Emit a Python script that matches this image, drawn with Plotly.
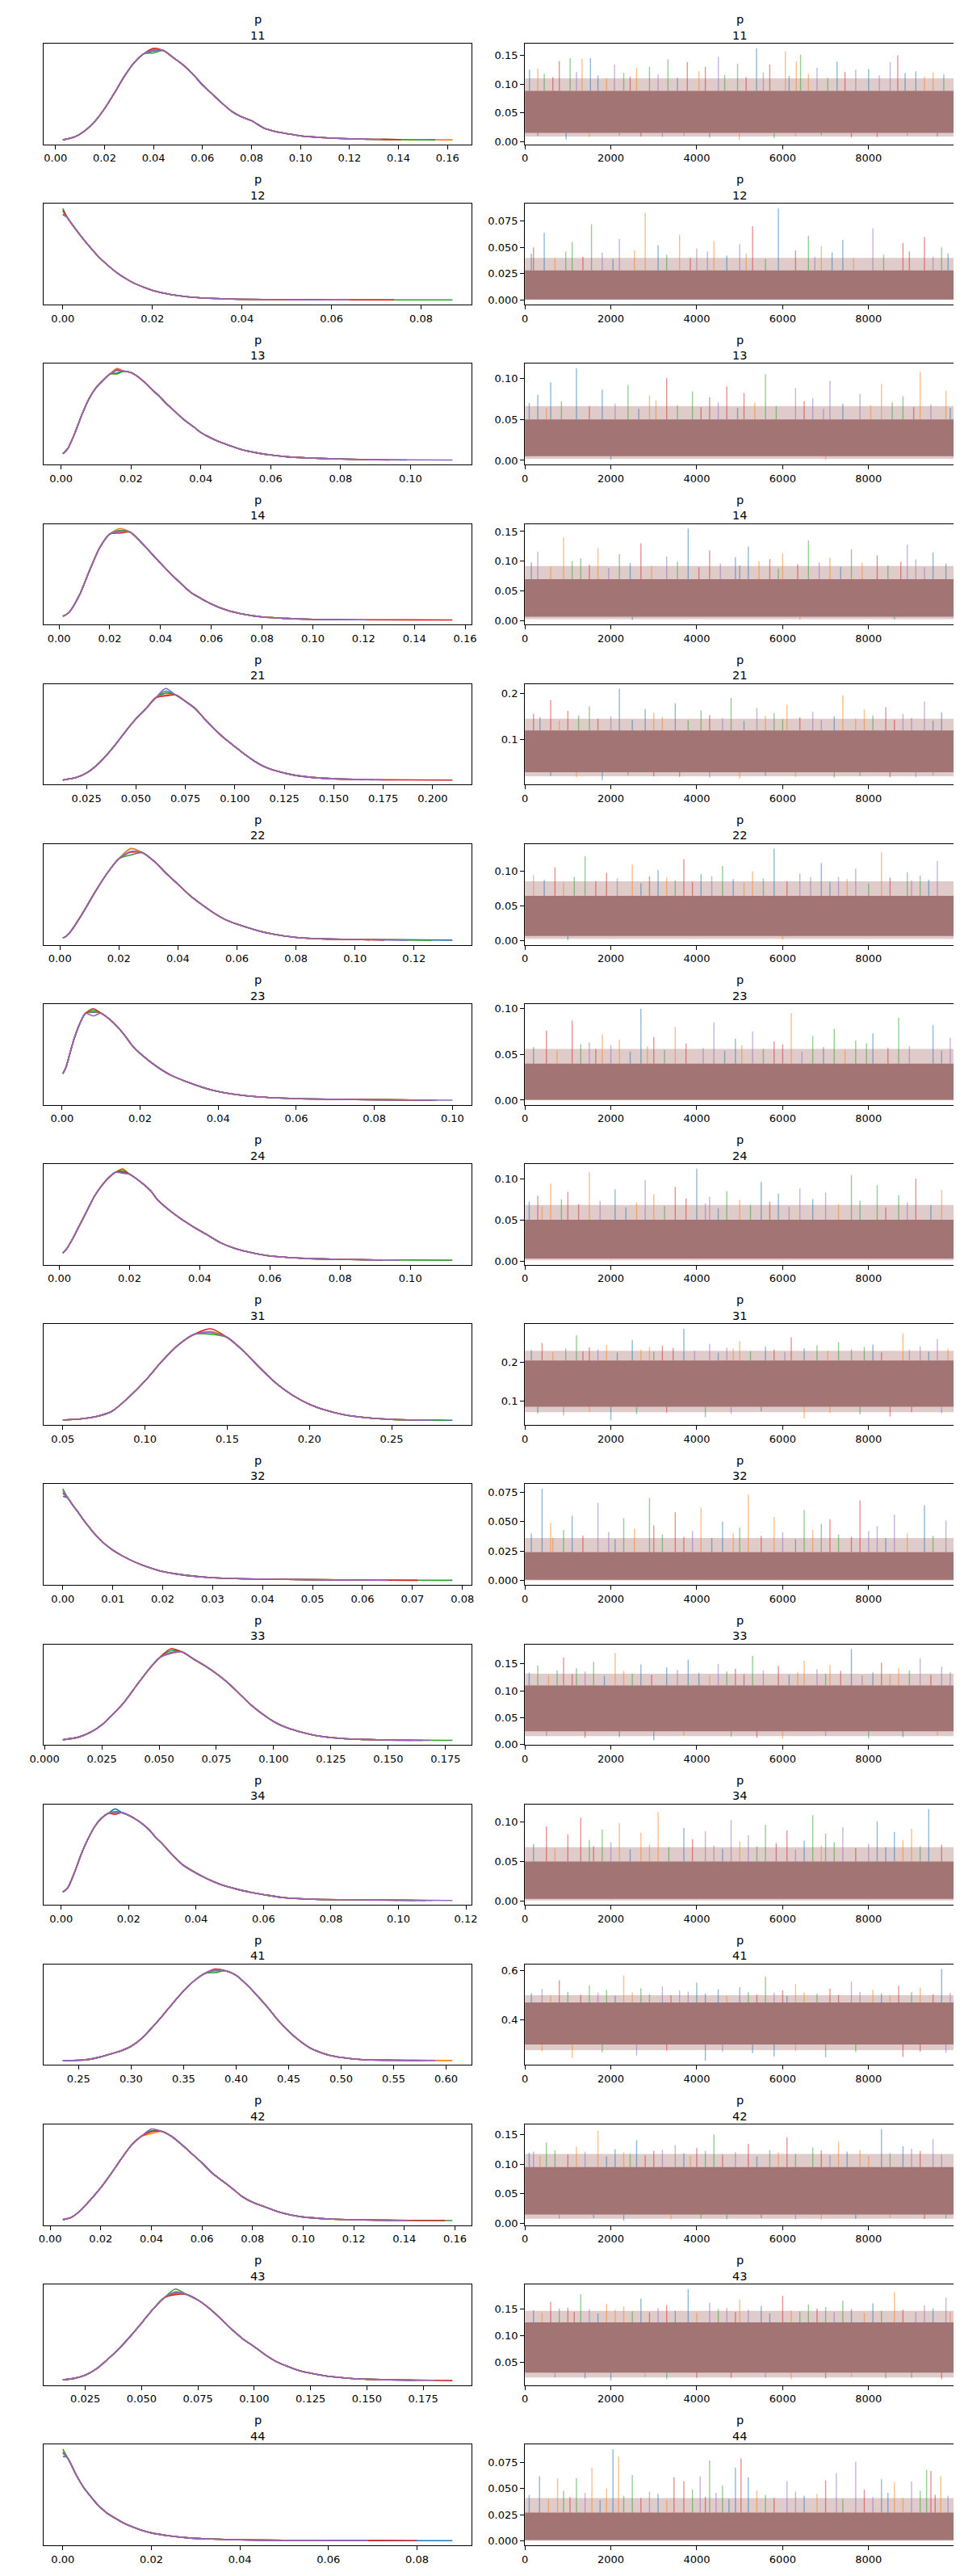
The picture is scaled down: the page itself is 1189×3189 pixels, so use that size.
import plotly.graph_objects as go

# ---------------- data ----------------
names = ["11", "12", "13", "14", "21", "22", "23", "24",
         "31", "32", "33", "34", "41", "42", "43", "44"]
chain_colors = ["#1f77b4", "#ff7f0e", "#2ca02c", "#d62728", "#9467bd"]

# KDE: grid, normalised density (mean curve), per-chain peak heights, per-chain tail ends
kx11 = [0.003, 0.008, 0.012, 0.016, 0.020, 0.024, 0.028, 0.032, 0.036, 0.040, 0.044, 0.048, 0.052, 0.056, 0.060, 0.064, 0.068, 0.072, 0.076, 0.080, 0.085, 0.090, 0.095, 0.100, 0.110, 0.120, 0.130, 0.140, 0.150, 0.162]
ky11 = [0.0, 0.035, 0.10, 0.20, 0.34, 0.51, 0.69, 0.84, 0.94, 0.985, 0.976, 0.90, 0.82, 0.72, 0.60, 0.50, 0.40, 0.31, 0.25, 0.21, 0.13, 0.09, 0.065, 0.044, 0.024, 0.012, 0.006, 0.003, 0.001, 0.0]
pk11 = [0.97, 0.99, 0.95, 1.0, 0.98]
ke11 = [0.128, 0.162, 0.155, 0.141, 0.133]

kx12 = [0.000, 0.001, 0.002, 0.004, 0.006, 0.008, 0.010, 0.012, 0.014, 0.016, 0.018, 0.020, 0.024, 0.028, 0.032, 0.036, 0.040, 0.050, 0.060, 0.087]
ky12 = [0.95, 0.90, 0.83, 0.70, 0.58, 0.47, 0.38, 0.30, 0.235, 0.18, 0.14, 0.105, 0.06, 0.034, 0.02, 0.013, 0.007, 0.003, 0.001, 0.0]
pk12 = [0.93, 0.97, 1.0, 0.98, 0.94]
ke12 = [0.055, 0.060, 0.087, 0.074, 0.064]

kx13 = [0.0005, 0.002, 0.004, 0.006, 0.008, 0.010, 0.012, 0.014, 0.016, 0.018, 0.020, 0.022, 0.024, 0.026, 0.028, 0.030, 0.032, 0.034, 0.036, 0.038, 0.040, 0.044, 0.048, 0.052, 0.056, 0.060, 0.065, 0.070, 0.080, 0.090, 0.112]
ky13 = [0.068, 0.13, 0.30, 0.50, 0.67, 0.79, 0.87, 0.94, 0.97, 0.97, 0.955, 0.91, 0.845, 0.77, 0.70, 0.62, 0.55, 0.48, 0.415, 0.36, 0.30, 0.22, 0.16, 0.11, 0.078, 0.054, 0.034, 0.024, 0.010, 0.003, 0.0]
pk13 = [0.95, 1.0, 0.94, 0.98, 0.99]
ke13 = [0.099, 0.090, 0.088, 0.094, 0.112]

kx14 = [0.0015, 0.004, 0.008, 0.012, 0.016, 0.020, 0.024, 0.028, 0.032, 0.036, 0.040, 0.044, 0.048, 0.052, 0.056, 0.060, 0.066, 0.072, 0.080, 0.090, 0.100, 0.120, 0.155]
ky14 = [0.04, 0.085, 0.27, 0.54, 0.79, 0.94, 0.98, 0.96, 0.86, 0.74, 0.62, 0.505, 0.40, 0.30, 0.235, 0.175, 0.108, 0.067, 0.034, 0.017, 0.007, 0.003, 0.0]
pk14 = [0.97, 1.0, 0.98, 0.95, 0.97]
ke14 = [0.110, 0.105, 0.112, 0.155, 0.121]

kx21 = [0.013, 0.020, 0.025, 0.030, 0.035, 0.040, 0.045, 0.050, 0.055, 0.060, 0.065, 0.070, 0.075, 0.080, 0.085, 0.090, 0.095, 0.100, 0.105, 0.110, 0.115, 0.120, 0.130, 0.140, 0.150, 0.160, 0.175, 0.210]
ky21 = [0.0, 0.03, 0.078, 0.16, 0.27, 0.40, 0.54, 0.67, 0.78, 0.90, 0.95, 0.93, 0.86, 0.78, 0.66, 0.55, 0.45, 0.365, 0.28, 0.205, 0.145, 0.105, 0.054, 0.027, 0.014, 0.007, 0.003, 0.0]
pk21 = [0.95, 0.93, 0.97, 0.92, 1.0]
ke21 = [0.165, 0.160, 0.170, 0.210, 0.175]

kx22 = [0.001, 0.002, 0.004, 0.008, 0.012, 0.016, 0.020, 0.024, 0.028, 0.032, 0.036, 0.040, 0.044, 0.048, 0.052, 0.056, 0.060, 0.066, 0.072, 0.080, 0.090, 0.100, 0.133]
ky22 = [0.024, 0.04, 0.11, 0.31, 0.53, 0.73, 0.89, 0.975, 0.955, 0.86, 0.73, 0.61, 0.49, 0.39, 0.30, 0.225, 0.175, 0.114, 0.067, 0.03, 0.013, 0.007, 0.0]
pk22 = [1.0, 1.0, 0.93, 0.96, 0.97]
ke22 = [0.133, 0.105, 0.126, 0.110, 0.118]

kx23 = [0.0002, 0.001, 0.002, 0.003, 0.004, 0.005, 0.006, 0.008, 0.010, 0.012, 0.014, 0.016, 0.018, 0.020, 0.024, 0.028, 0.032, 0.036, 0.040, 0.045, 0.050, 0.060, 0.070, 0.080, 0.100]
ky23 = [0.29, 0.36, 0.51, 0.66, 0.78, 0.88, 0.95, 0.97, 0.95, 0.89, 0.81, 0.71, 0.595, 0.51, 0.375, 0.27, 0.20, 0.14, 0.095, 0.06, 0.037, 0.017, 0.01, 0.005, 0.0]
pk23 = [0.96, 0.97, 0.98, 1.0, 0.92]
ke23 = [0.095, 0.092, 0.096, 0.094, 0.100]

kx24 = [0.001, 0.002, 0.004, 0.006, 0.008, 0.010, 0.012, 0.014, 0.016, 0.018, 0.020, 0.022, 0.024, 0.026, 0.028, 0.030, 0.034, 0.038, 0.042, 0.046, 0.050, 0.055, 0.060, 0.070, 0.080, 0.090, 0.112]
ky24 = [0.08, 0.12, 0.25, 0.40, 0.55, 0.70, 0.81, 0.90, 0.96, 0.97, 0.94, 0.89, 0.83, 0.76, 0.66, 0.59, 0.47, 0.37, 0.28, 0.19, 0.13, 0.081, 0.047, 0.02, 0.01, 0.004, 0.0]
pk24 = [0.96, 1.0, 0.99, 0.97, 0.95]
ke24 = [0.090, 0.088, 0.112, 0.092, 0.097]

kx31 = [0.050, 0.060, 0.070, 0.080, 0.090, 0.100, 0.110, 0.120, 0.130, 0.140, 0.150, 0.160, 0.170, 0.180, 0.190, 0.200, 0.210, 0.220, 0.230, 0.240, 0.250, 0.260, 0.287]
ky31 = [0.003, 0.013, 0.04, 0.10, 0.25, 0.43, 0.64, 0.82, 0.94, 0.96, 0.905, 0.755, 0.57, 0.40, 0.27, 0.175, 0.11, 0.064, 0.037, 0.02, 0.01, 0.004, 0.0]
pk31 = [0.96, 0.97, 0.94, 1.0, 0.96]
ke31 = [0.287, 0.262, 0.283, 0.268, 0.275]

kx32 = [0.000, 0.001, 0.002, 0.003, 0.004, 0.005, 0.006, 0.007, 0.008, 0.009, 0.010, 0.012, 0.014, 0.016, 0.018, 0.020, 0.024, 0.028, 0.032, 0.040, 0.050, 0.060, 0.078]
ky32 = [0.97, 0.90, 0.82, 0.75, 0.67, 0.60, 0.53, 0.47, 0.416, 0.37, 0.33, 0.265, 0.21, 0.165, 0.128, 0.097, 0.06, 0.037, 0.023, 0.013, 0.007, 0.003, 0.0]
pk32 = [0.92, 0.96, 1.0, 0.95, 0.98]
ke32 = [0.060, 0.058, 0.078, 0.071, 0.065]

kx33 = [0.008, 0.015, 0.020, 0.025, 0.030, 0.035, 0.040, 0.045, 0.050, 0.055, 0.060, 0.065, 0.070, 0.075, 0.080, 0.085, 0.090, 0.095, 0.100, 0.105, 0.110, 0.120, 0.130, 0.140, 0.150, 0.178]
ky33 = [0.007, 0.037, 0.088, 0.17, 0.29, 0.425, 0.595, 0.76, 0.90, 0.966, 0.966, 0.89, 0.815, 0.73, 0.63, 0.51, 0.39, 0.29, 0.206, 0.145, 0.105, 0.047, 0.02, 0.01, 0.004, 0.0]
pk33 = [0.96, 0.95, 0.98, 1.0, 0.95]
ke33 = [0.160, 0.155, 0.178, 0.165, 0.168]

kx34 = [0.0005, 0.002, 0.004, 0.006, 0.008, 0.010, 0.012, 0.014, 0.016, 0.018, 0.020, 0.022, 0.024, 0.026, 0.028, 0.030, 0.032, 0.034, 0.036, 0.040, 0.044, 0.048, 0.052, 0.056, 0.060, 0.066, 0.075, 0.090, 0.116]
ky34 = [0.09, 0.14, 0.31, 0.51, 0.675, 0.81, 0.90, 0.953, 0.97, 0.96, 0.93, 0.89, 0.84, 0.775, 0.69, 0.62, 0.535, 0.46, 0.39, 0.30, 0.224, 0.164, 0.124, 0.09, 0.064, 0.03, 0.013, 0.007, 0.0]
pk34 = [1.0, 0.96, 0.97, 0.94, 0.96]
ke34 = [0.105, 0.100, 0.110, 0.108, 0.116]

kx41 = [0.235, 0.25, 0.26, 0.27, 0.28, 0.29, 0.30, 0.31, 0.32, 0.33, 0.34, 0.35, 0.36, 0.37, 0.38, 0.39, 0.40, 0.41, 0.42, 0.43, 0.44, 0.45, 0.46, 0.47, 0.48, 0.49, 0.50, 0.52, 0.55, 0.606]
ky41 = [0.0, 0.003, 0.013, 0.037, 0.07, 0.105, 0.155, 0.24, 0.36, 0.49, 0.63, 0.76, 0.87, 0.95, 0.99, 0.98, 0.93, 0.83, 0.71, 0.58, 0.44, 0.32, 0.22, 0.14, 0.09, 0.054, 0.034, 0.01, 0.003, 0.0]
pk41 = [0.98, 0.99, 0.96, 1.0, 0.99]
ke41 = [0.570, 0.606, 0.575, 0.580, 0.590]

kx42 = [0.005, 0.008, 0.012, 0.016, 0.020, 0.024, 0.028, 0.032, 0.036, 0.040, 0.044, 0.048, 0.052, 0.056, 0.060, 0.064, 0.068, 0.072, 0.076, 0.080, 0.085, 0.090, 0.095, 0.100, 0.110, 0.120, 0.135, 0.159]
ky42 = [0.01, 0.03, 0.11, 0.23, 0.36, 0.51, 0.67, 0.82, 0.92, 0.98, 0.975, 0.92, 0.83, 0.73, 0.63, 0.52, 0.435, 0.35, 0.26, 0.20, 0.147, 0.097, 0.062, 0.038, 0.018, 0.009, 0.003, 0.0]
pk42 = [0.98, 0.95, 0.98, 0.97, 1.0]
ke42 = [0.135, 0.130, 0.159, 0.156, 0.142]

kx43 = [0.015, 0.020, 0.025, 0.030, 0.035, 0.040, 0.045, 0.050, 0.055, 0.060, 0.065, 0.070, 0.075, 0.080, 0.085, 0.090, 0.095, 0.100, 0.105, 0.110, 0.115, 0.120, 0.130, 0.140, 0.150, 0.160, 0.180, 0.188]
ky43 = [0.009, 0.024, 0.06, 0.13, 0.235, 0.35, 0.485, 0.63, 0.78, 0.905, 0.955, 0.94, 0.88, 0.79, 0.68, 0.56, 0.455, 0.37, 0.28, 0.205, 0.153, 0.109, 0.059, 0.03, 0.015, 0.009, 0.003, 0.0]
pk43 = [0.96, 0.95, 1.0, 0.94, 0.97]
ke43 = [0.170, 0.175, 0.172, 0.188, 0.180]

kx44 = [0.000, 0.001, 0.002, 0.003, 0.004, 0.005, 0.006, 0.007, 0.008, 0.009, 0.010, 0.012, 0.014, 0.016, 0.018, 0.020, 0.024, 0.028, 0.032, 0.040, 0.050, 0.070, 0.088]
ky44 = [0.955, 0.91, 0.82, 0.72, 0.635, 0.56, 0.50, 0.44, 0.385, 0.34, 0.30, 0.24, 0.185, 0.145, 0.11, 0.085, 0.053, 0.032, 0.02, 0.009, 0.003, 0.001, 0.0]
pk44 = [0.92, 0.97, 1.0, 0.96, 0.955]
ke44 = [0.088, 0.070, 0.068, 0.080, 0.069]

# Trace: [core_lo, core_hi, fringe_lo, fringe_hi], high spikes (iteration, value), low spikes
tb11 = [0.015, 0.088, 0.009, 0.110]
si11 = [5392, 6063, 6417, 8678, 4502, 1526, 1329, 1053, 800, 8502, 7265, 6318, 3330, 3781, 2085, 106, 2600, 4950, 5700, 7700, 9100, 300, 2900, 4200, 6800, 8000, 9500,
        450, 650, 1200, 1700, 1900, 2300, 2450, 3100, 3550, 4050, 4650, 5150, 5550, 6150, 6600, 7050, 7450, 8250, 8850, 9300, 9750]
sv11 = [0.162, 0.157, 0.151, 0.150, 0.147, 0.145, 0.144, 0.145, 0.140, 0.138, 0.139, 0.139, 0.143, 0.138, 0.134, 0.125, 0.128, 0.135, 0.134, 0.125, 0.122, 0.127, 0.130, 0.130, 0.128, 0.126, 0.120,
        0.118, 0.112, 0.121, 0.115, 0.110, 0.119, 0.113, 0.117, 0.111, 0.122, 0.116, 0.112, 0.120, 0.114, 0.118, 0.111, 0.121, 0.115, 0.119, 0.113, 0.117]
li11 = [960, 4990, 5800, 7600, 3200, 300, 1500, 2200, 2700, 3700, 4300, 6300, 6900, 8200, 8900, 9600]
lv11 = [0.004, 0.003, 0.006, 0.007, 0.008, 0.010, 0.008, 0.011, 0.009, 0.010, 0.007, 0.009, 0.011, 0.008, 0.010, 0.009]

tb12 = [0.0005, 0.028, 0.0, 0.040]
si12 = [5900, 2800, 1550, 5300, 8100, 450, 3600, 6600, 9300, 2200, 7400, 4400, 1100, 8800, 5000, 3100, 6900, 9700, 200, 4000,
        150, 700, 950, 1350, 1800, 2050, 2550, 3300, 3850, 4250, 4700, 5150, 5600, 6300, 6750, 7150, 7650, 8350, 8950, 9500, 9850]
sv12 = [0.087, 0.083, 0.072, 0.070, 0.068, 0.064, 0.062, 0.061, 0.060, 0.058, 0.057, 0.056, 0.055, 0.054, 0.053, 0.052, 0.051, 0.050, 0.050, 0.049,
        0.044, 0.040, 0.046, 0.041, 0.045, 0.039, 0.047, 0.043, 0.040, 0.046, 0.042, 0.044, 0.039, 0.047, 0.041, 0.045, 0.040, 0.043, 0.046, 0.041, 0.044]
li12 = []
lv12 = []

tb13 = [0.005, 0.050, 0.002, 0.066]
si13 = [1200, 9200, 5600, 3300, 7100, 600, 8300, 2400, 4700, 6300, 1800, 9800, 3900, 5100, 7800, 300, 2900, 8800, 4300, 6700,
        100, 500, 850, 1500, 2100, 2650, 3050, 3550, 4100, 4500, 4950, 5350, 5850, 6500, 6950, 7400, 8050, 8550, 9050, 9450, 9900]
sv13 = [0.112, 0.108, 0.105, 0.100, 0.097, 0.095, 0.093, 0.092, 0.090, 0.088, 0.086, 0.085, 0.084, 0.082, 0.081, 0.080, 0.079, 0.078, 0.077, 0.076,
        0.070, 0.064, 0.072, 0.066, 0.069, 0.063, 0.073, 0.067, 0.065, 0.071, 0.064, 0.070, 0.066, 0.072, 0.063, 0.069, 0.067, 0.071, 0.065, 0.068, 0.064]
li13 = [2000, 7000]
lv13 = [0.0008, 0.0005]

tb14 = [0.007, 0.070, 0.003, 0.092]
si14 = [3800, 900, 6600, 2700, 8900, 5200, 1700, 7600, 4300, 300, 9500, 6000, 2200, 8200, 3300, 4900, 7100, 1300, 5700, 9100,
        150, 600, 1100, 1500, 1950, 2450, 2950, 3550, 4050, 4550, 5000, 5450, 5900, 6350, 6850, 7350, 7850, 8450, 8750, 9300, 9800]
sv14 = [0.155, 0.140, 0.135, 0.130, 0.128, 0.125, 0.122, 0.120, 0.118, 0.116, 0.115, 0.113, 0.112, 0.110, 0.108, 0.107, 0.106, 0.105, 0.104, 0.103,
        0.098, 0.091, 0.100, 0.094, 0.089, 0.097, 0.092, 0.099, 0.090, 0.096, 0.093, 0.100, 0.088, 0.095, 0.098, 0.091, 0.097, 0.093, 0.099, 0.090, 0.096]
li14 = [2500, 6400, 8600]
lv14 = [0.0015, 0.002, 0.0025]

tb21 = [0.030, 0.120, 0.021, 0.145]
si21 = [2200, 7400, 4800, 600, 9300, 3500, 6100, 1500, 8400, 5400, 2800, 7900, 4100, 1000, 6700, 9700, 3000, 5800, 200, 8800,
        350, 800, 1250, 1700, 2000, 2500, 3200, 3800, 4300, 4600, 5100, 5600, 6000, 6400, 6900, 7200, 7700, 8100, 8600, 9000, 9500]
sv21 = [0.210, 0.195, 0.190, 0.185, 0.182, 0.178, 0.175, 0.172, 0.170, 0.168, 0.166, 0.165, 0.163, 0.162, 0.160, 0.159, 0.158, 0.157, 0.156, 0.155,
        0.148, 0.141, 0.152, 0.145, 0.150, 0.143, 0.149, 0.142, 0.153, 0.146, 0.140, 0.151, 0.144, 0.148, 0.142, 0.150, 0.145, 0.152, 0.143, 0.147, 0.141]
li21 = [1800, 5000, 7200, 3600, 9100, 600, 1200, 2400, 3000, 4300, 5600, 6300, 7800, 8500, 9500]
lv21 = [0.013, 0.016, 0.018, 0.020, 0.019, 0.022, 0.019, 0.024, 0.021, 0.018, 0.023, 0.020, 0.022, 0.019, 0.024]

tb22 = [0.007, 0.065, 0.003, 0.086]
si22 = [5800, 8300, 1400, 3700, 9600, 6900, 2500, 4600, 700, 7700, 3100, 5300, 8900, 1900, 6400, 4100, 200, 9200, 2900, 7300,
        450, 900, 1150, 1650, 2150, 2700, 3300, 3500, 3900, 4350, 4850, 5100, 5550, 6100, 6650, 7100, 7500, 8000, 8500, 9000, 9400]
sv22 = [0.133, 0.128, 0.122, 0.118, 0.115, 0.112, 0.110, 0.108, 0.106, 0.104, 0.102, 0.100, 0.099, 0.098, 0.097, 0.096, 0.095, 0.094, 0.093, 0.092,
        0.088, 0.084, 0.092, 0.086, 0.090, 0.083, 0.091, 0.087, 0.085, 0.093, 0.089, 0.084, 0.090, 0.086, 0.092, 0.085, 0.089, 0.083, 0.091, 0.087, 0.088]
li22 = [1000, 6000]
lv22 = [0.001, 0.0015]

tb23 = [0.0005, 0.040, 0.0, 0.056]
si23 = [2700, 6200, 8700, 1100, 4400, 9500, 3500, 7200, 500, 5300, 8100, 1800, 6700, 3000, 9900, 4900, 2200, 7700, 5800, 1500,
        200, 750, 1300, 1650, 2000, 2450, 2850, 3250, 3750, 4150, 4650, 5050, 5550, 6000, 6450, 6950, 7450, 7950, 8450, 8950, 9700]
sv23 = [0.100, 0.095, 0.090, 0.087, 0.085, 0.082, 0.080, 0.078, 0.076, 0.075, 0.073, 0.072, 0.070, 0.069, 0.068, 0.067, 0.066, 0.065, 0.064, 0.063,
        0.058, 0.054, 0.061, 0.056, 0.060, 0.053, 0.059, 0.055, 0.062, 0.057, 0.054, 0.060, 0.056, 0.061, 0.053, 0.058, 0.055, 0.062, 0.057, 0.059, 0.054]
li23 = []
lv23 = []

tb24 = [0.003, 0.050, 0.001, 0.068]
si24 = [4000, 1500, 7600, 9100, 2800, 5500, 600, 8200, 3500, 6400, 2100, 9700, 4700, 1000, 7000, 5900, 3000, 8700, 300, 4300,
        100, 400, 850, 1250, 1750, 2350, 2600, 3250, 3750, 4200, 4500, 5000, 5250, 5700, 6150, 6700, 7300, 7800, 8400, 8900, 9450]
sv24 = [0.112, 0.108, 0.104, 0.100, 0.098, 0.096, 0.094, 0.092, 0.090, 0.088, 0.087, 0.086, 0.085, 0.084, 0.083, 0.082, 0.081, 0.080, 0.079, 0.078,
        0.072, 0.066, 0.075, 0.069, 0.073, 0.065, 0.071, 0.067, 0.076, 0.070, 0.064, 0.074, 0.068, 0.072, 0.066, 0.075, 0.069, 0.073, 0.065, 0.071, 0.068]
li24 = []
lv24 = []

tb31 = [0.085, 0.205, 0.071, 0.230]
si31 = [3700, 8800, 1200, 6200, 9600, 2500, 5000, 7300, 400, 4300, 8100, 1900, 6800, 3200, 9200, 5600, 2900, 7900, 1500, 4700,
        150, 650, 950, 1350, 1700, 2150, 2700, 3000, 3450, 3950, 4500, 4850, 5250, 5800, 6050, 6500, 7050, 7600, 8300, 8950, 9400, 9850]
sv31 = [0.287, 0.275, 0.270, 0.265, 0.260, 0.258, 0.255, 0.252, 0.250, 0.248, 0.246, 0.245, 0.244, 0.243, 0.242, 0.241, 0.240, 0.240, 0.239, 0.238,
        0.232, 0.227, 0.236, 0.229, 0.234, 0.226, 0.233, 0.228, 0.237, 0.230, 0.225, 0.235, 0.229, 0.233, 0.227, 0.236, 0.230, 0.234, 0.226, 0.232, 0.228, 0.235]
li31 = [2000, 6500, 4200, 8500, 900, 300, 1500, 2600, 3300, 4800, 5500, 7100, 7800, 9000, 9700]
lv31 = [0.050, 0.055, 0.058, 0.060, 0.062, 0.068, 0.072, 0.066, 0.070, 0.067, 0.073, 0.069, 0.065, 0.071, 0.068]

tb32 = [0.0005, 0.024, 0.0, 0.036]
si32 = [400, 5200, 2900, 7800, 1700, 9300, 4100, 6500, 3500, 8600, 1100, 5800, 2300, 7100, 9800, 4600, 600, 6900, 3000, 8200,
        150, 650, 900, 1350, 1950, 2100, 2550, 3200, 3700, 3900, 4350, 4850, 5000, 5500, 6000, 6300, 6700, 7300, 7600, 8000, 8400, 8900, 9500]
sv32 = [0.078, 0.073, 0.070, 0.068, 0.066, 0.064, 0.062, 0.060, 0.058, 0.056, 0.055, 0.054, 0.053, 0.052, 0.051, 0.050, 0.049, 0.048, 0.047, 0.046,
        0.040, 0.036, 0.043, 0.038, 0.041, 0.035, 0.044, 0.039, 0.037, 0.042, 0.036, 0.040, 0.045, 0.038, 0.041, 0.035, 0.043, 0.039, 0.037, 0.042, 0.036, 0.040, 0.038]
li32 = []
lv32 = []

tb33 = [0.025, 0.110, 0.016, 0.132]
si33 = [7600, 2100, 5300, 900, 9200, 3800, 6500, 1600, 8300, 4500, 2700, 7100, 300, 5900, 9700, 3300, 8700, 1200, 4900, 6800,
        100, 550, 750, 1100, 1400, 1850, 2300, 2500, 2950, 3550, 4050, 4300, 4700, 5100, 5550, 6150, 6350, 7000, 7350, 7850, 8100, 8500, 8950, 9450, 9900]
sv33 = [0.178, 0.170, 0.165, 0.162, 0.160, 0.158, 0.156, 0.154, 0.152, 0.150, 0.149, 0.148, 0.147, 0.146, 0.145, 0.144, 0.143, 0.142, 0.141, 0.140,
        0.134, 0.129, 0.138, 0.131, 0.136, 0.128, 0.137, 0.132, 0.130, 0.139, 0.133, 0.129, 0.136, 0.131, 0.138, 0.130, 0.135, 0.132, 0.137, 0.129, 0.134, 0.131, 0.138, 0.130, 0.135]
li33 = [3000, 6000, 8000, 1400, 500, 2200, 3700, 4800, 5400, 7000, 8800, 9600]
lv33 = [0.008, 0.011, 0.012, 0.013, 0.016, 0.014, 0.017, 0.015, 0.013, 0.016, 0.014, 0.017]

tb34 = [0.003, 0.050, 0.001, 0.068]
si34 = [9400, 3100, 6700, 1300, 4800, 8200, 2200, 5600, 500, 7400, 3700, 9000, 1800, 6100, 4200, 8600, 2700, 7000, 1000, 5200,
        200, 700, 1500, 1600, 2000, 2450, 2900, 3350, 3900, 4400, 4600, 5000, 5400, 5850, 6300, 6500, 6900, 7200, 7700, 8000, 8400, 8800, 9200, 9700]
sv34 = [0.116, 0.112, 0.108, 0.105, 0.102, 0.100, 0.098, 0.096, 0.094, 0.093, 0.092, 0.091, 0.090, 0.089, 0.088, 0.087, 0.086, 0.085, 0.084, 0.083,
        0.072, 0.066, 0.077, 0.069, 0.074, 0.065, 0.071, 0.068, 0.078, 0.070, 0.066, 0.075, 0.069, 0.073, 0.065, 0.076, 0.070, 0.074, 0.067, 0.072, 0.068, 0.077, 0.069, 0.071]
li34 = []
lv34 = []

tb41 = [0.300, 0.470, 0.277, 0.500]
si41 = [9700, 2300, 5600, 800, 7600, 4000, 6300, 1500, 8700, 3200, 5000, 9200, 2700, 7100, 400, 4500, 8100, 1900, 6000, 3600,
        150, 600, 1000, 1300, 1700, 2100, 2500, 2900, 3400, 3800, 4200, 4700, 5200, 5400, 5800, 6100, 6500, 6800, 7300, 7800, 8300, 8500, 9000, 9500, 9900]
sv41 = [0.606, 0.580, 0.575, 0.560, 0.555, 0.550, 0.545, 0.540, 0.538, 0.535, 0.532, 0.530, 0.528, 0.526, 0.525, 0.524, 0.522, 0.521, 0.520, 0.519,
        0.508, 0.499, 0.513, 0.502, 0.510, 0.497, 0.511, 0.504, 0.500, 0.514, 0.506, 0.498, 0.512, 0.503, 0.509, 0.496, 0.511, 0.505, 0.501, 0.513, 0.507, 0.499, 0.512, 0.503, 0.509]
li41 = [4200, 1100, 7000, 8800, 2600, 5800, 400, 1800, 3300, 4600, 5300, 6300, 7700, 9200, 9800]
lv41 = [0.235, 0.245, 0.248, 0.250, 0.255, 0.252, 0.272, 0.268, 0.275, 0.270, 0.265, 0.273, 0.269, 0.271, 0.266]

tb42 = [0.015, 0.095, 0.008, 0.117]
si42 = [8300, 1700, 4400, 6100, 9500, 2600, 7300, 500, 5200, 3500, 8800, 1200, 6700, 4000, 9000, 2100, 7800, 5700, 3000, 200,
        100, 350, 700, 1000, 1400, 1900, 2300, 2450, 2800, 3200, 3700, 3850, 4200, 4600, 4900, 5400, 5900, 6300, 6900, 7100, 7500, 8000, 8500, 9200, 9700]
sv42 = [0.159, 0.156, 0.150, 0.145, 0.142, 0.140, 0.138, 0.136, 0.134, 0.132, 0.130, 0.129, 0.128, 0.127, 0.126, 0.125, 0.124, 0.123, 0.122, 0.121,
        0.119, 0.114, 0.123, 0.116, 0.121, 0.113, 0.120, 0.117, 0.115, 0.124, 0.118, 0.114, 0.122, 0.116, 0.120, 0.113, 0.119, 0.117, 0.123, 0.115, 0.121, 0.114, 0.118, 0.122, 0.116]
li42 = [2300, 6900, 4700, 9300, 800, 1600, 3400, 4100, 5500, 6300, 7700, 8500, 9800]
lv42 = [0.005, 0.006, 0.007, 0.0075, 0.008, 0.009, 0.007, 0.0085, 0.009, 0.007, 0.008, 0.0095, 0.0085]

tb43 = [0.030, 0.125, 0.021, 0.147]
si43 = [3800, 8600, 1300, 6000, 9800, 2700, 5000, 7400, 600, 4300, 8100, 1900, 6600, 3300, 9300, 5500, 2300, 7000, 1000, 4700,
        200, 400, 800, 1150, 1500, 1700, 2100, 2500, 2900, 3100, 3500, 4000, 4500, 4900, 5200, 5700, 6200, 6400, 6800, 7200, 7600, 7900, 8300, 8800, 9100, 9500, 9900]
sv43 = [0.188, 0.182, 0.178, 0.175, 0.172, 0.170, 0.168, 0.166, 0.164, 0.162, 0.161, 0.160, 0.159, 0.158, 0.157, 0.156, 0.155, 0.154, 0.153, 0.152,
        0.148, 0.143, 0.151, 0.145, 0.150, 0.142, 0.149, 0.146, 0.144, 0.152, 0.147, 0.143, 0.150, 0.145, 0.149, 0.142, 0.148, 0.146, 0.151, 0.144, 0.150, 0.143, 0.147, 0.149, 0.145, 0.151, 0.144]
li43 = [2000, 6200, 8400, 4000, 700, 1400, 2800, 3300, 4800, 5600, 7000, 7600, 9000, 9700]
lv43 = [0.015, 0.018, 0.019, 0.020, 0.021, 0.019, 0.022, 0.018, 0.020, 0.021, 0.019, 0.022, 0.020, 0.018]

tb44 = [0.0005, 0.027, 0.0, 0.041]
si44 = [2050, 2180, 4300, 5030, 7700, 4900, 1560, 9350, 9450, 7250, 340, 9680, 2500, 3700, 6100, 5200, 760, 1200, 3470, 4080, 8300, 8600, 4600, 7000, 9000,
        100, 550, 900, 1050, 1400, 1750, 1900, 2300, 2700, 2900, 3100, 3300, 3900, 4200, 4450, 4750, 5400, 5600, 5800, 6300, 6500, 6800, 7400, 7900, 8100, 8450, 8800, 9200, 9550, 9850]
sv44 = [0.088, 0.081, 0.077, 0.079, 0.076, 0.070, 0.070, 0.068, 0.067, 0.065, 0.062, 0.062, 0.063, 0.057, 0.057, 0.061, 0.060, 0.060, 0.061, 0.062, 0.059, 0.056, 0.053, 0.058, 0.057,
        0.044, 0.040, 0.048, 0.042, 0.046, 0.039, 0.050, 0.043, 0.041, 0.047, 0.045, 0.039, 0.049, 0.042, 0.046, 0.040, 0.048, 0.044, 0.041, 0.047, 0.043, 0.045, 0.040, 0.049, 0.042, 0.046, 0.041, 0.048, 0.044, 0.043]
li44 = []
lv44 = []

# tick values (left: x ticks of KDE, right: y ticks of trace) and decimals
xt11 = [0.00, 0.02, 0.04, 0.06, 0.08, 0.10, 0.12, 0.14, 0.16]
xt12 = [0.00, 0.02, 0.04, 0.06, 0.08]
xt13 = [0.00, 0.02, 0.04, 0.06, 0.08, 0.10]
xt14 = [0.00, 0.02, 0.04, 0.06, 0.08, 0.10, 0.12, 0.14, 0.16]
xt21 = [0.025, 0.050, 0.075, 0.100, 0.125, 0.150, 0.175, 0.200]
xt22 = [0.00, 0.02, 0.04, 0.06, 0.08, 0.10, 0.12]
xt23 = [0.00, 0.02, 0.04, 0.06, 0.08, 0.10]
xt24 = [0.00, 0.02, 0.04, 0.06, 0.08, 0.10]
xt31 = [0.05, 0.10, 0.15, 0.20, 0.25]
xt32 = [0.00, 0.01, 0.02, 0.03, 0.04, 0.05, 0.06, 0.07, 0.08]
xt33 = [0.000, 0.025, 0.050, 0.075, 0.100, 0.125, 0.150, 0.175]
xt34 = [0.00, 0.02, 0.04, 0.06, 0.08, 0.10, 0.12]
xt41 = [0.25, 0.30, 0.35, 0.40, 0.45, 0.50, 0.55, 0.60]
xt42 = [0.00, 0.02, 0.04, 0.06, 0.08, 0.10, 0.12, 0.14, 0.16]
xt43 = [0.025, 0.050, 0.075, 0.100, 0.125, 0.150, 0.175]
xt44 = [0.00, 0.02, 0.04, 0.06, 0.08]
xd = [2, 2, 2, 2, 3, 2, 2, 2, 2, 2, 3, 2, 2, 2, 3, 2]

yt11 = [0.00, 0.05, 0.10, 0.15]
yt12 = [0.000, 0.025, 0.050, 0.075]
yt13 = [0.00, 0.05, 0.10]
yt14 = [0.00, 0.05, 0.10, 0.15]
yt21 = [0.1, 0.2]
yt22 = [0.00, 0.05, 0.10]
yt23 = [0.00, 0.05, 0.10]
yt24 = [0.00, 0.05, 0.10]
yt31 = [0.1, 0.2]
yt32 = [0.000, 0.025, 0.050, 0.075]
yt33 = [0.00, 0.05, 0.10, 0.15]
yt34 = [0.00, 0.05, 0.10]
yt41 = [0.4, 0.6]
yt42 = [0.00, 0.05, 0.10, 0.15]
yt43 = [0.05, 0.10, 0.15]
yt44 = [0.000, 0.025, 0.050, 0.075]
yd = [2, 3, 2, 2, 1, 2, 2, 2, 1, 3, 2, 2, 1, 2, 2, 3]

iter_ticks = [0, 2000, 4000, 6000, 8000]
n_draws = 10000

# ---------------- assembly ----------------
g = globals()
KX = [g["kx" + n] for n in names]
KY = [g["ky" + n] for n in names]
PK = [g["pk" + n] for n in names]
KE = [g["ke" + n] for n in names]
TB = [g["tb" + n] for n in names]
SI = [g["si" + n] for n in names]
SV = [g["sv" + n] for n in names]
LI = [g["li" + n] for n in names]
LV = [g["lv" + n] for n in names]
XT = [g["xt" + n] for n in names]
YT = [g["yt" + n] for n in names]

W, H = 1189, 3189
L_X0, L_X1 = 29.3, 571.0
R_X0, R_X1 = 638.0, 1181.0
TOP0, PITCH, BOX_H = 44.3, 198.7, 125.0

FONT = "DejaVu Sans"
core_color = "rgb(163,116,116)"
fringe_color = "rgba(180,132,132,0.42)"

fig = go.Figure()
layout = dict(
    width=W, height=H, margin=dict(l=0, r=0, t=0, b=0),
    paper_bgcolor="white", plot_bgcolor="white", showlegend=False,
    font=dict(family=FONT, size=13, color="black"),
)
annotations = []

def axis_common():
    return dict(showline=True, mirror=True, linecolor="black", linewidth=1,
                showgrid=False, zeroline=False, ticks="outside", ticklen=5,
                tickwidth=1, tickcolor="black",
                tickfont=dict(family=FONT, size=13, color="black"))

def pad_range(lo, hi):
    s = hi - lo
    return [lo - 0.05 * s, hi + 0.05 * s]

for k, n in enumerate(names):
    T = TOP0 + k * PITCH
    B = T + BOX_H
    ydom = [1 - B / H, 1 - T / H]
    ia, ib = 2 * k + 1, 2 * k + 2
    xa_l, ya_l = f"x{ia}", f"y{ia}"
    xa_r, ya_r = f"x{ib}", f"y{ib}"

    # ---- KDE panel
    kx, ky = KX[k], KY[k]
    pi = ky.index(max(ky))
    allx, ally = [], []
    for c in range(5):
        xs, ys = [], []
        for xv, yv in zip(kx, ky):
            if xv < KE[k][c] - 1e-9:
                xs.append(xv); ys.append(yv)
            else:
                break
        nxt = ky[len(xs)] if len(xs) < len(ky) else ky[-1]
        xs.append(KE[k][c]); ys.append(nxt)
        if pi < len(ys):
            ys[pi] = PK[k][c]
        allx += xs; ally += ys
        fig.add_trace(go.Scatter(x=xs, y=ys, mode="lines", xaxis=xa_l, yaxis=ya_l,
                                 line=dict(color=chain_colors[c], width=1.6, shape="spline", smoothing=0.7),
                                 hoverinfo="skip"))
    ax = axis_common()
    ax.update(domain=[L_X0 / W, L_X1 / W], anchor=ya_l, range=pad_range(min(allx), max(allx)),
              tickvals=XT[k], ticktext=[f"{v:.{xd[k]}f}" for v in XT[k]])
    layout[f"xaxis{ia}"] = ax
    ay = axis_common()
    ay.update(domain=ydom, anchor=xa_l, range=pad_range(min(0.0, min(ally)), max(ally)),
              ticks="", showticklabels=False)
    layout[f"yaxis{ia}"] = ay

    # ---- trace panel
    clo, chi, flo, fhi = TB[k]
    fig.add_trace(go.Scatter(x=[0, n_draws - 1, n_draws - 1, 0, 0], y=[flo, flo, fhi, fhi, flo],
                             mode="lines", fill="toself", fillcolor=fringe_color,
                             line=dict(width=0), xaxis=xa_r, yaxis=ya_r, hoverinfo="skip"))
    fig.add_trace(go.Scatter(x=[0, n_draws - 1, n_draws - 1, 0, 0], y=[clo, clo, chi, chi, clo],
                             mode="lines", fill="toself", fillcolor=core_color,
                             line=dict(width=0), xaxis=xa_r, yaxis=ya_r, hoverinfo="skip"))
    for c in range(5):
        xs, ys = [], []
        for j, (it, v) in enumerate(zip(SI[k], SV[k])):
            if j % 5 == c:
                xs += [it, it, None]; ys += [chi, v, None]
        for j, (it, v) in enumerate(zip(LI[k], LV[k])):
            if j % 5 == c:
                xs += [it, it, None]; ys += [clo, v, None]
        if xs:
            fig.add_trace(go.Scatter(x=xs, y=ys, mode="lines", xaxis=xa_r, yaxis=ya_r,
                                     line=dict(color=chain_colors[c], width=1.4),
                                     opacity=0.5, hoverinfo="skip", connectgaps=False))
    tmin = min([flo, clo] + LV[k])
    tmax = max([fhi] + SV[k])
    ax = axis_common()
    ax.update(domain=[R_X0 / W, R_X1 / W], anchor=ya_r, range=[0, n_draws - 1],
              tickvals=iter_ticks, ticktext=[str(v) for v in iter_ticks])
    layout[f"xaxis{ib}"] = ax
    ay = axis_common()
    ay.update(domain=ydom, anchor=xa_r, range=pad_range(tmin, tmax),
              tickvals=YT[k], ticktext=[f"{v:.{yd[k]}f}" for v in YT[k]])
    layout[f"yaxis{ib}"] = ay

    # ---- titles
    for xc in ((L_X0 + L_X1) / 2, (R_X0 + R_X1) / 2):
        annotations.append(dict(x=xc / W, y=1 - (T - 10.5) / H, xref="paper", yref="paper",
                                text=n, showarrow=False, xanchor="center", yanchor="middle",
                                font=dict(family=FONT, size=14.5, color="black")))
        annotations.append(dict(x=xc / W, y=1 - (T - 30.0) / H, xref="paper", yref="paper",
                                text="p", showarrow=False, xanchor="center", yanchor="middle",
                                font=dict(family=FONT, size=14.5, color="black")))

layout["annotations"] = annotations
fig.update_layout(**layout)
fig.write_html("out.html")
